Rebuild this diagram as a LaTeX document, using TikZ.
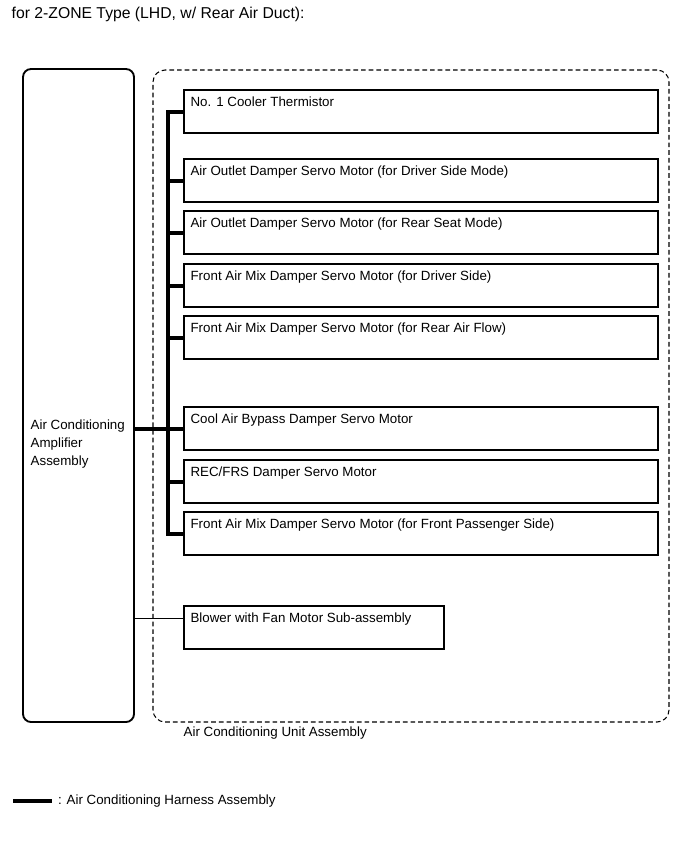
\documentclass[tikz,border=0pt]{standalone}
\usepackage{fontspec}
\setmainfont{Liberation Sans}
\usetikzlibrary{calc,positioning}
\tikzstyle{ampbox}    = [draw, line width=1.4pt, rounded corners=6pt, minimum width=83.25pt, minimum height=489.75pt, inner sep=0pt]
\tikzstyle{unitbox}   = [draw, line width=0.8pt, dash pattern=on 3.5pt off 2.25pt, rounded corners=9pt, minimum width=387pt, minimum height=489pt, inner sep=0pt]
\tikzstyle{part}      = [draw, line width=1.5pt, anchor=north west, minimum width=355.5pt, minimum height=32.25pt, inner sep=0pt]
\tikzstyle{blowerbox} = [part, minimum width=195pt]
\tikzstyle{parttext}  = [anchor=north west, inner xsep=5.5pt, inner ysep=5.5pt, font=\fontsize{10}{13.5}\selectfont]
\tikzstyle{plaintext} = [anchor=west, align=left, font=\fontsize{10}{13.5}\selectfont]
\tikzstyle{harness}   = [line width=3pt]
\tikzstyle{wire}      = [line width=0.8pt]

\begin{document}
\begin{tikzpicture}[x=0.75pt,y=-0.75pt]
        \useasboundingbox (0,0) rectangle (690,854);

        \node[anchor=west, font=\fontsize{11.8}{14}\selectfont] (title) at (7,14) {for 2-ZONE Type (LHD, w/ Rear Air Duct):};

        % amplifier and unit outline
        \node[ampbox] (amp) at (78.5,395.5) {};
        \node[plaintext] (amplabel) at (26,444) {Air Conditioning\\Amplifier\\Assembly};
        \node[unitbox] (unit) at (411,396) {};
        \node[plaintext] (unitlabel) at (179,733) {Air Conditioning Unit Assembly};

        % parts inside the unit
        \node[part, label={[parttext]north west:No. 1 Cooler Thermistor}] (thermistor) at (183,89) {};
        \node[part, label={[parttext]north west:Air Outlet Damper Servo Motor (for Driver Side Mode)}] (outletdrv) at (183,158) {};
        \node[part, label={[parttext]north west:Air Outlet Damper Servo Motor (for Rear Seat Mode)}] (outletrear) at (183,210) {};
        \node[part, label={[parttext]north west:Front Air Mix Damper Servo Motor (for Driver Side)}] (mixdrv) at (183,263) {};
        \node[part, label={[parttext]north west:Front Air Mix Damper Servo Motor (for Rear Air Flow)}] (mixrear) at (183,315) {};
        \node[part, label={[parttext]north west:Cool Air Bypass Damper Servo Motor}] (bypass) at (183,406) {};
        \node[part, label={[parttext]north west:REC/FRS Damper Servo Motor}] (recfrs) at (183,459) {};
        \node[part, label={[parttext]north west:Front Air Mix Damper Servo Motor (for Front Passenger Side)}] (mixpass) at (183,511) {};
        \node[blowerbox, label={[parttext]north west:Blower with Fan Motor Sub-assembly}] (blower) at (183,605) {};

        % harness
        \coordinate (bus) at (168,0);
        \draw[harness] (thermistor.west) -| (bus |- mixpass.west) -- (mixpass.west);
        \draw[harness] (outletdrv.west) -- (outletdrv.west -| bus);
        \draw[harness] (outletrear.west) -- (outletrear.west -| bus);
        \draw[harness] (mixdrv.west) -- (mixdrv.west -| bus);
        \draw[harness] (mixrear.west) -- (mixrear.west -| bus);
        \draw[harness] (recfrs.west) -- (recfrs.west -| bus);
        \draw[harness] (amp.east |- bypass.west) -- (bypass.west);

        \coordinate (blowtap) at ([yshift=7pt]blower.west);
        \draw[wire] (amp.east |- blowtap) -- (blowtap);

        % key
        \coordinate (keyleft) at (13,801);
        \coordinate (keyright) at (52,801);
        \draw[harness] (keyleft) -- (keyright);
        \node[plaintext, right=1pt of keyright] (keytext) {: Air Conditioning Harness Assembly};
\end{tikzpicture}
\end{document}
